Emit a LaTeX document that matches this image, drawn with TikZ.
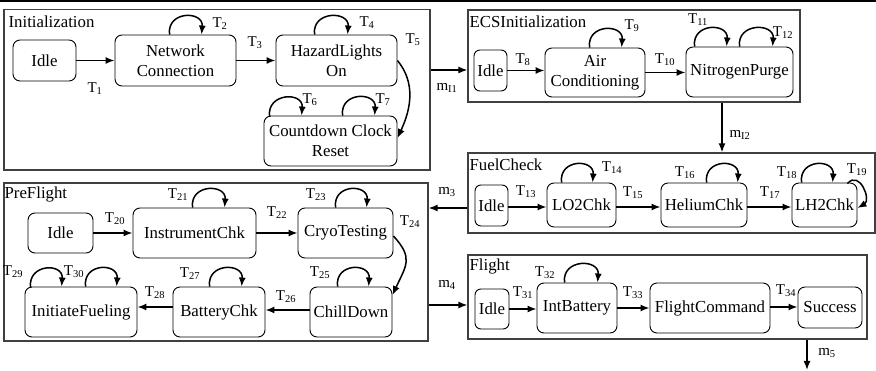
\documentclass[tikz,border=0pt]{standalone}
\usepackage{fontspec}
\setmainfont{Liberation Serif}
\usetikzlibrary{positioning,
				arrows.meta,
				calc}

\begin{document}
\begin{tikzpicture}[x=1pt, y=-1pt,
		font=\fontsize{16.8}{20}\selectfont,
		frame/.style={draw=black!75, line width=1.2pt, inner sep=0pt},
		title/.style={anchor=west, inner sep=0pt},
		state/.style={draw, line width=0.9pt, rounded corners=7pt, align=center, inner sep=0pt},
		lbl/.style={font=\fontsize{15}{17}\selectfont, inner sep=0pt},
		arr/.style={-{Latex[length=9pt,width=7pt]}, line width=1.5pt},
		selfloop/.style={arr, to path={.. controls +(-3,-24) and +(2,-24) .. (\tikztotarget)}}]
		\useasboundingbox (0,0) rectangle (876,371);
		\draw[line width=2pt] (0,1) -- (876,1);

		% frames
		\node[frame, minimum width=426pt, minimum height=160.5pt] (init) at (217,89.75) {};
		\node[frame, minimum width=332pt, minimum height=92pt] (ecs) at (634,56) {};
		\node[frame, minimum width=407pt, minimum height=80pt] (fuel) at (671.5,193) {};
		\node[frame, minimum width=424pt, minimum height=158pt] (pre) at (216,262) {};
		\node[frame, minimum width=399pt, minimum height=84pt] (flight) at (667.5,297) {};
		\node[title] (initT) at ([xshift=5pt,yshift=-12.5pt]init.north west) {Initialization};
		\node[title] (ecsT) at ([xshift=2pt,yshift=-12pt]ecs.north west) {ECSInitialization};
		\node[title] (fuelT) at ([xshift=2pt,yshift=-12pt]fuel.north west) {FuelCheck};
		\node[title] (preT) at ([xshift=1pt,yshift=-12pt]pre.north west) {PreFlight};
		\node[title] (flightT) at ([xshift=2pt,yshift=-12pt]flight.north west) {Flight};

		% Initialization
		\node[state, minimum width=63pt, minimum height=41pt] (iIdle) at (44.5,60.5) {Idle};
		\node[state, minimum width=121pt, minimum height=51pt] (nc) at (175.5,60.5) {Network\\Connection};
		\node[state, minimum width=121pt, minimum height=51pt] (hl) at (336.5,60.5) {HazardLights\\On};
		\node[state, minimum width=133pt, minimum height=50pt] (cd) at (330.5,141) {Countdown Clock\\Reset};
		\draw[arr] (iIdle.east) -- (nc.west);
		\draw[arr] (nc.east) -- (hl.west);
		\draw[selfloop] ([xshift=55pt]nc.north west) to ([xshift=87pt]nc.north west);
		\draw[selfloop] ([xshift=39pt]hl.north west) to ([xshift=72pt]hl.north west);
		\draw[selfloop] ([xshift=6pt,yshift=-1pt]cd.north west) to ([xshift=38pt]cd.north west);
		\draw[selfloop] ([xshift=79pt]cd.north west) to ([xshift=111pt]cd.north west);
		\draw[arr] (hl.east) .. controls +(18,22) and +(14,-30) .. ([yshift=3pt]cd.east);
		\node[lbl] (t1) at (95,89) {T\textsubscript{1}};
		\node[lbl] (t2) at (220,24) {T\textsubscript{2}};
		\node[lbl] (t3) at (255,43) {T\textsubscript{3}};
		\node[lbl] (t4) at (367,23) {T\textsubscript{4}};
		\node[lbl] (t5) at (413,40) {T\textsubscript{5}};
		\node[lbl] (t6) at (310,100) {T\textsubscript{6}};
		\node[lbl] (t7) at (383,100) {T\textsubscript{7}};

		% ECSInitialization
		\node[state, rounded corners=6pt, minimum width=33pt, minimum height=41pt] (eIdle) at (490.5,70.5) {Idle};
		\node[state, minimum width=100pt, minimum height=49pt] (ac) at (595,72.5) {Air\\Conditioning};
		\node[state, minimum width=107pt, minimum height=50pt] (np) at (739.5,72) {NitrogenPurge};
		\draw[arr] (eIdle.east) -- (eIdle.east -| ac.west);
		\draw[arr] (ac.east) -- (ac.east -| np.west);
		\draw[selfloop] ([xshift=45pt]ac.north west) to ([xshift=77pt]ac.north west);
		\draw[selfloop] ([xshift=9pt]np.north west) to ([xshift=41pt]np.north west);
		\draw[selfloop] ([xshift=54pt]np.north west) to ([xshift=87pt]np.north west);
		\node[lbl] (t8) at (523,60) {T\textsubscript{8}};
		\node[lbl] (t9) at (632,26) {T\textsubscript{9}};
		\node[lbl] (t10) at (665,60) {T\textsubscript{10}};
		\node[lbl] (t11) at (698,20) {T\textsubscript{11}};
		\node[lbl] (t12) at (783,33) {T\textsubscript{12}};

		% FuelCheck
		\node[state, rounded corners=6pt, minimum width=33pt, minimum height=41pt] (fIdle) at (491.5,205.5) {Idle};
		\node[state, minimum width=69pt, minimum height=44pt] (lo2) at (581.5,205) {LO2Chk};
		\node[state, minimum width=86pt, minimum height=44pt] (he) at (704,205) {HeliumChk};
		\node[state, minimum width=65pt, minimum height=44pt] (lh2) at (824.5,205) {LH2Chk};
		\draw[arr] ([yshift=-1.5pt]fIdle.east) -- ([yshift=-1.5pt]fIdle.east -| lo2.west);
		\draw[arr] ([yshift=-2pt]lo2.east) -- ([yshift=-2pt]lo2.east -| he.west);
		\draw[arr] ([yshift=-2pt]he.east) -- ([yshift=-2pt]he.east -| lh2.west);
		\draw[selfloop] ([xshift=15pt]lo2.north west) to ([xshift=46pt]lo2.north west);
		\draw[selfloop] ([xshift=46pt]he.north west) to ([xshift=77pt]he.north west);
		\draw[selfloop] ([xshift=10pt]lh2.north west) to ([xshift=41pt]lh2.north west);
		\draw[arr] ([xshift=-10pt,yshift=-1pt]lh2.north east) .. controls +(12,-14) and +(14,-8) .. ([yshift=-3pt]lh2.east);
		\node[lbl] (t13) at (526,192) {T\textsubscript{13}};
		\node[lbl] (t14) at (612,168) {T\textsubscript{14}};
		\node[lbl] (t15) at (633,193) {T\textsubscript{15}};
		\node[lbl] (t16) at (685,173) {T\textsubscript{16}};
		\node[lbl] (t17) at (770,193) {T\textsubscript{17}};
		\node[lbl] (t18) at (787,173) {T\textsubscript{18}};
		\node[lbl] (t19) at (857,170) {T\textsubscript{19}};

		% PreFlight
		\node[state, minimum width=65pt, minimum height=40pt] (pIdle) at (60.5,233) {Idle};
		\node[state, minimum width=123pt, minimum height=50pt] (ic) at (194.5,233) {InstrumentChk};
		\node[state, minimum width=95pt, minimum height=50pt] (ct) at (345.5,233) {CryoTesting};
		\node[state, minimum width=82pt, minimum height=50pt] (chd) at (351,312) {ChillDown};
		\node[state, minimum width=92pt, minimum height=50pt] (bc) at (219,312) {BatteryChk};
		\node[state, minimum width=112pt, minimum height=50pt] (inf) at (81,312) {InitiateFueling};
		\draw[arr] (pIdle.east) -- (ic.west);
		\draw[arr] (ic.east) -- (ct.west);
		\draw[arr] ([yshift=2pt]chd.west) -- ([yshift=2pt]chd.west -| bc.east);
		\draw[arr] ([yshift=5pt]bc.west) -- ([yshift=5pt]bc.west -| inf.east);
		\draw[selfloop] ([xshift=60pt]ic.north west) to ([xshift=92pt]ic.north west);
		\draw[selfloop] ([xshift=38pt]ct.north west) to ([xshift=69pt]ct.north west);
		\draw[selfloop] ([xshift=28pt]chd.north west) to ([xshift=59pt]chd.north west);
		\draw[selfloop] ([xshift=37pt]bc.north west) to ([xshift=69pt]bc.north west);
		\draw[selfloop] ([xshift=6pt,yshift=-1pt]inf.north west) to ([xshift=37pt]inf.north west);
		\draw[selfloop] ([xshift=61pt]inf.north west) to ([xshift=92pt]inf.north west);
		\draw[arr] ([yshift=-3pt]ct.east) .. controls +(20,22) and +(14,-30) .. ([yshift=17pt]chd.east);
		\node[lbl] (t20) at (115,219) {T\textsubscript{20}};
		\node[lbl] (t21) at (178,195) {T\textsubscript{21}};
		\node[lbl] (t22) at (277,213) {T\textsubscript{22}};
		\node[lbl] (t23) at (316,195) {T\textsubscript{23}};
		\node[lbl] (t24) at (410,222) {T\textsubscript{24}};
		\node[lbl] (t25) at (320,273) {T\textsubscript{25}};
		\node[lbl] (t26) at (286,297) {T\textsubscript{26}};
		\node[lbl] (t27) at (190,274) {T\textsubscript{27}};
		\node[lbl] (t28) at (155,293) {T\textsubscript{28}};
		\node[lbl] (t29) at (13,272) {T\textsubscript{29}};
		\node[lbl] (t30) at (74,272) {T\textsubscript{30}};

		% Flight
		\node[state, rounded corners=6pt, minimum width=34pt, minimum height=40pt] (gIdle) at (492,309) {Idle};
		\node[state, minimum width=80pt, minimum height=50pt] (ib) at (577,308) {IntBattery};
		\node[state, minimum width=120pt, minimum height=50pt] (fc) at (710,308) {FlightCommand};
		\node[state, minimum width=64pt, minimum height=41pt] (su) at (830,307.5) {Success};
		\draw[arr] (gIdle.east) -- (gIdle.east -| ib.west);
		\draw[arr] (ib.east) -- (fc.west);
		\draw[arr] ([yshift=1pt]fc.east) -- ([yshift=1pt]fc.east -| su.west);
		\draw[selfloop] ([xshift=28pt]ib.north west) to ([xshift=61pt]ib.north west);
		\node[lbl] (t31) at (523,293) {T\textsubscript{31}};
		\node[lbl] (t32) at (545,273) {T\textsubscript{32}};
		\node[lbl] (t33) at (633,293) {T\textsubscript{33}};
		\node[lbl] (t34) at (786,291) {T\textsubscript{34}};

		% messages between machines
		\coordinate (exit) at (807,370);
		\draw[arr] ([yshift=19.75pt]init.east) -- ([yshift=19.75pt]init.east -| ecs.west);
		\draw[arr] ([xshift=88pt]ecs.south) -- ([xshift=88pt]ecs.south |- fuel.north);
		\draw[arr] ([yshift=-15pt]fuel.west) -- ([yshift=-15pt]fuel.west -| pre.east);
		\draw[arr] ([yshift=-43pt]pre.east) -- ([yshift=-43pt]pre.east -| flight.west);
		\draw[arr] (exit |- flight.south) -- (exit);
		\node[lbl] (mi1) at (447,88) {m\textsubscript{I1}};
		\node[lbl] (mi2) at (740,135) {m\textsubscript{I2}};
		\node[lbl] (m3) at (447,192) {m\textsubscript{3}};
		\node[lbl] (m4) at (447,285) {m\textsubscript{4}};
		\node[lbl] (m5) at (827,353) {m\textsubscript{5}};
\end{tikzpicture}
\end{document}
